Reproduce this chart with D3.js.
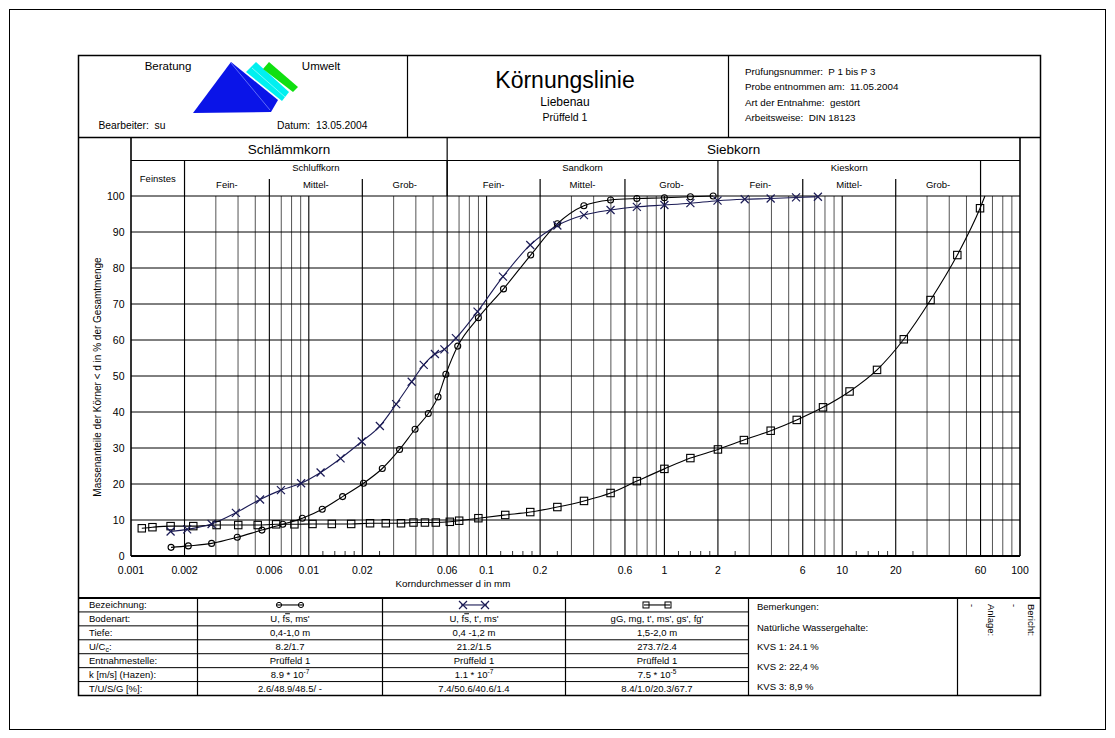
<!DOCTYPE html>
<html><head><meta charset="utf-8">
<script src="https://cdn.jsdelivr.net/npm/d3@7"></script>
<style>
body{margin:0;background:#fff}
svg{display:block}
text{font-family:"Liberation Sans",Arial,Helvetica,sans-serif;fill:#000}
</style>
</head><body>
<svg id="c" width="1115" height="738"></svg>
<script>
// ---------------- DATA ----------------
// Series 1 (circles)
const circleD = [0.00168,0.0021,0.00284,0.00396,0.00545,0.00714,0.0092,0.0119,0.0155,0.0203,0.0259,0.0324,0.0396,0.047,0.0533,0.059,0.0688,0.0899,0.1245,0.177,0.25,0.3525,0.498,0.70,1.0,1.4,1.88];
const circleP = [2.4,2.8,3.5,5.2,7.2,8.8,10.5,13.0,16.5,20.2,24.3,29.6,35.2,39.6,44.2,50.5,58.3,66.2,74.2,83.6,92.3,97.3,98.9,99.3,99.5,99.8,100];
// Series 2 (crosses)
const crossD = [0.00167,0.00207,0.00284,0.00389,0.00532,0.00697,0.00905,0.01165,0.01509,0.01985,0.0251,0.031,0.0379,0.0443,0.0512,0.0579,0.0672,0.0889,0.1236,0.176,0.25,0.3527,0.498,0.70,1.0,1.4,1.99,2.83,3.96,5.5,7.3];
const crossP = [6.8,7.4,8.9,12.0,15.7,18.3,20.2,23.2,27.1,31.8,36.1,42.2,48.4,53.1,56.1,57.4,60.5,67.9,77.6,86.4,91.8,94.7,96.1,97.0,97.5,98.0,98.7,99.1,99.3,99.6,99.8];
// Series 3 (squares)
const squareD = [0.00115,0.00132,0.00167,0.00224,0.00303,0.00401,0.00516,0.00655,0.0083,0.01049,0.01347,0.01731,0.0221,0.0271,0.033,0.0388,0.045,0.0518,0.0621,0.0701,0.0899,0.1273,0.176,0.25,0.353,0.498,0.70,1.0,1.4,2.0,2.8,3.96,5.55,7.8,11.0,15.7,22.2,31.4,44.4,59.6];
const squareP = [7.7,8.0,8.3,8.3,8.6,8.6,8.6,8.8,8.8,8.9,8.9,8.9,9.1,9.1,9.1,9.3,9.3,9.3,9.5,9.8,10.5,11.4,12.2,13.6,15.3,17.5,20.8,24.2,27.2,29.6,32.2,34.8,37.8,41.3,45.7,51.7,60.2,71.1,83.6,96.6];
// curve continuation of series 3 up to 100 %
const squareTailD = [63.5];
const squareTailP = [100];

const xTickLabels = [0.001,0.002,0.006,0.01,0.02,0.06,0.1,0.2,0.6,1,2,6,10,20,60,100];
const yTicks = [0,10,20,30,40,50,60,70,80,90,100];
const gridDecades = [0.001,0.01,0.1,1,10];
const gridMultipliers = [1,2,3,4,5,6,7,8,9];
const shortTickDecades = [0.01,0.1,1,10];
const shortTickMultipliers = [1.2,1.4,1.6,1.8,2.5];
const boundaryLines = [0.002,0.006,0.02,0.06,0.2,0.6,2,6,20,60];

const mainBands = ["Schlämmkorn","Siebkorn"];
const mainBandFrom = [0.001,0.06];
const mainBandTo = [0.06,100];
const groupNames = ["Schluffkorn","Sandkorn","Kieskorn"];
const groupFrom = [0.002,0.06,2];
const groupTo = [0.06,2,60];
const subNames = ["Fein-","Mittel-","Grob-","Fein-","Mittel-","Grob-","Fein-","Mittel-","Grob-"];
const subFrom = [0.002,0.006,0.02,0.06,0.2,0.6,2,6,20];
const subTo = [0.006,0.02,0.06,0.2,0.6,2,6,20,60];

const rowLabels = ["Bezeichnung:","Bodenart:","Tiefe:","U/C","Entnahmestelle:","k [m/s] (Hazen):","T/U/S/G [%]:"];
const bodenart = [["U, f","s",", ms'"],["U, f","s",", t', ms'"],["gG, mg, t', ms', gs', fg'","",""]];
const tiefe = ["0,4-1,0 m","0,4 -1,2 m","1,5-2,0 m"];
const ucc = ["8.2/1.7","21.2/1.5","273.7/2.4"];
const entnahme = ["Prüffeld 1","Prüffeld 1","Prüffeld 1"];
const kMant = ["8.9 * 10","1.1 * 10","7.5 * 10"];
const kExp = ["-7","-7","-5"];
const tusg = ["2.6/48.9/48.5/ -","7.4/50.6/40.6/1.4","8.4/1.0/20.3/67.7"];
const remarks = ["Bemerkungen:","Natürliche Wassergehalte:","KVS 1: 24.1 %","KVS 2: 22,4 %","KVS 3: 8,9 %"];
const headerInfo = ["Prüfungsnummer:  P 1 bis P 3","Probe entnommen am:  11.05.2004","Art der Entnahme:  gestört","Arbeitsweise:  DIN 18123"];

// ---------------- DRAW ----------------
const svg = d3.select("#c");
const X0 = 78.5, X1 = 1040.5, HY0 = 55.5, HY1 = 137.5, BR1 = 160.5, TBY0 = 598, TBY1 = 695.5;
const x = d3.scaleLog().domain([0.001,100]).range([131,1020]);
const y = d3.scaleLinear().domain([0,100]).range([556,196]);
const NAVY = "#1b1b55";

function line(x1,y1,x2,y2,w,c){ svg.append("line").attr("x1",x1).attr("y1",y1).attr("x2",x2).attr("y2",y2).attr("stroke",c||"#000").attr("stroke-width",w||1); }
function txt(s,xx,yy,size,anchor){ return svg.append("text").attr("x",xx).attr("y",yy).attr("font-size",size).attr("text-anchor",anchor||"start").text(s); }

// outer page frame
svg.append("rect").attr("x",9.5).attr("y",9.5).attr("width",1096).attr("height",720).attr("fill","none").attr("stroke","#000").attr("stroke-width",1);
// inner frame
svg.append("rect").attr("x",X0).attr("y",HY0).attr("width",X1-X0).attr("height",TBY1-HY0).attr("fill","none").attr("stroke","#000").attr("stroke-width",1.5);

// ---- header ----
line(X0,HY1,X1,HY1,1.5);
line(407.5,HY0,407.5,HY1,1.2);
line(728.5,HY0,728.5,HY1,1.2);
txt("Beratung",168,70,11.5,"middle");
txt("Umwelt",321,70,11.5,"middle");
txt("Bearbeiter:  su",98.5,129,10.3).attr("xml:space","preserve");
txt("Datum:  13.05.2004",277,129,10.3).attr("xml:space","preserve");
// logo
const logo = svg.append("g");
logo.append("polygon").attr("points","193,113 231,62 278,100 271,112").attr("fill","#0a14e8");
logo.append("line").attr("x1",231).attr("y1",63).attr("x2",270).attr("y2",110).attr("stroke","#9aa8ff").attr("stroke-width",0.6);
logo.append("polygon").attr("points","246,72 256,62 289,92 282,101").attr("fill","#00f0f0");
logo.append("line").attr("x1",252).attr("y1",68).attr("x2",285).attr("y2",97).attr("stroke","#c8ffff").attr("stroke-width",0.6);
logo.append("polygon").attr("points","263,69 269,62 298,87 293,92").attr("fill","#10e010");

txt("Körnungslinie",565,88,23,"middle");
txt("Liebenau",565,106,12,"middle");
txt("Prüffeld 1",565,121,10.5,"middle");
headerInfo.forEach((s,i)=> txt(s,745,75+i*15.3,9.8).attr("xml:space","preserve"));

// ---- classification band ----
line(x(0.001),BR1,x(100),BR1,1.2);
mainBands.forEach((n,i)=>{
  txt(n,(x(mainBandFrom[i])+x(mainBandTo[i]))/2,154,13.5,"middle");
});
line(x(0.06),HY1,x(0.06),y(100),1.2);
groupNames.forEach((n,i)=>{
  line(x(groupFrom[i]),BR1,x(groupFrom[i]),y(100),1.2);
  txt(n,(x(groupFrom[i])+x(groupTo[i]))/2,171,9.5,"middle");
});
line(x(60),BR1,x(60),y(100),1.2);
subNames.forEach((n,i)=>{
  txt(n,(x(subFrom[i])+x(subTo[i]))/2,188,9.5,"middle");
  if (i%3!==0) line(x(subFrom[i]),179,x(subFrom[i]),y(100),1.2);
});
txt("Feinstes",(x(0.001)+x(0.002))/2,182,9.5,"middle");

// ---- grid ----
const gridVals = [];
gridDecades.forEach(d=>gridMultipliers.forEach(m=>{ const v=+(d*m).toPrecision(6); if(v>0.001) gridVals.push(v); }));
gridVals.forEach(v=>{
  const b = boundaryLines.some(q=>Math.abs(q-v)/v<1e-6) || [0.01,0.1,1,10].some(q=>Math.abs(q-v)/v<1e-6);
  line(x(v),y(100),x(v),y(0), b?1.1:1, b?"#000":"#555");
});
shortTickDecades.forEach(d=>shortTickMultipliers.forEach(m=>{
  const v = d*m; line(x(v),y(0),x(v),y(0)-5,1,"#333");
}));
yTicks.forEach(t=> line(x(0.001),y(t),x(100),y(t),1,"#000"));
// frame of plot
line(x(0.001),HY1,x(0.001),y(0),1.6);
line(x(100),HY1,x(100),y(0),1.6);
line(x(0.001),y(0),x(100),y(0),2);

// axis labels
yTicks.forEach(t=> txt(String(t),124.5,y(t)+3.8,10.5,"end"));
xTickLabels.forEach(t=> txt(String(t),x(t),574,10.5,"middle"));
txt("Korndurchmesser d in mm",453,587,9.8,"middle");
svg.append("text").attr("transform","translate(101,377) rotate(-90)").attr("font-size",10).attr("text-anchor","middle").text("Massenanteile der Körner < d in % der Gesamtmenge");

// ---- curves ----
const lineGen = d3.line().x(d=>x(d[0])).y(d=>y(d[1])).curve(d3.curveMonotoneX);
const circles = circleD.map((d,i)=>[d,circleP[i]]);
const crosses = crossD.map((d,i)=>[d,crossP[i]]);
const squares = squareD.map((d,i)=>[d,squareP[i]]);
const squareCurve = squares.concat(squareTailD.map((d,i)=>[d,squareTailP[i]]));

svg.append("path").attr("d",lineGen(squareCurve)).attr("fill","none").attr("stroke","#000").attr("stroke-width",1.1);
svg.append("path").attr("d",lineGen(circles)).attr("fill","none").attr("stroke","#000").attr("stroke-width",1.1);
svg.append("path").attr("d",lineGen(crosses)).attr("fill","none").attr("stroke",NAVY).attr("stroke-width",1.1);

function drawCircle(g,cx,cy){ g.append("circle").attr("cx",cx).attr("cy",cy).attr("r",3).attr("fill","none").attr("stroke","#000").attr("stroke-width",1.1); }
function drawSquare(g,cx,cy){ g.append("rect").attr("x",cx-3.7).attr("y",cy-3.7).attr("width",7.4).attr("height",7.4).attr("fill","none").attr("stroke","#000").attr("stroke-width",1.1); }
function drawCross(g,cx,cy){ const s=4; g.append("path").attr("d",`M${cx-s},${cy-s}L${cx+s},${cy+s}M${cx-s},${cy+s}L${cx+s},${cy-s}`).attr("stroke",NAVY).attr("stroke-width",1.2).attr("fill","none"); }

const mk = svg.append("g");
squares.forEach(p=>drawSquare(mk,x(p[0]),y(p[1])));
circles.forEach(p=>drawCircle(mk,x(p[0]),y(p[1])));
crosses.forEach(p=>drawCross(mk,x(p[0]),y(p[1])));

// ---- table ----
line(X0,TBY0,X1,TBY0,2);
const colX = [78.5,197.5,382.5,565.5,748.5,957.5,1040.5];
const rowH = (TBY1-TBY0)/7;
for(let r=1;r<7;r++) line(X0,TBY0+r*rowH,colX[4],TBY0+r*rowH,1);
colX.slice(1,6).forEach(cx=> line(cx,TBY0,cx,TBY1,1.2));
const FS = 9.5;
const rowY = r => TBY0 + r*rowH + rowH/2 + 3.4;
rowLabels.forEach((s,r)=>{
  const t = txt(s,89,rowY(r),FS);
  if (r===3){ t.append("tspan").attr("font-size",7).attr("dy",2).text("c"); t.append("tspan").attr("dy",-2).text(":"); }
});
const colC = [0,1,2].map(i=>(colX[i+1]+colX[i+2])/2);
// legend symbols
const lg = svg.append("g");
const symY = TBY0 + rowH/2;
[0,1,2].forEach(i=>{
  const c = colC[i];
  lg.append("line").attr("x1",c-13).attr("y1",symY).attr("x2",c+13).attr("y2",symY).attr("stroke", i===1?NAVY:"#000").attr("stroke-width",1.1);
  if(i===0){ lg.append("circle").attr("cx",c-11).attr("cy",symY).attr("r",2.6).attr("fill","none").attr("stroke","#000"); lg.append("circle").attr("cx",c+11).attr("cy",symY).attr("r",2.6).attr("fill","none").attr("stroke","#000"); }
  else if(i===1){ drawCross(lg,c-11,symY); drawCross(lg,c+11,symY); }
  else { lg.append("rect").attr("x",c-14).attr("y",symY-3).attr("width",6).attr("height",6).attr("fill","none").attr("stroke","#000"); lg.append("rect").attr("x",c+8).attr("y",symY-3).attr("width",6).attr("height",6).attr("fill","none").attr("stroke","#000"); }
});
[0,1,2].forEach(i=>{
  const c = colC[i];
  const t = txt(bodenart[i][0],c,rowY(1),FS,"middle");
  if (bodenart[i][1]) { t.append("tspan").style("text-decoration","overline").text(bodenart[i][1]); t.append("tspan").text(bodenart[i][2]); }
  txt(tiefe[i],c,rowY(2),FS,"middle");
  txt(ucc[i],c,rowY(3),FS,"middle");
  txt(entnahme[i],c,rowY(4),FS,"middle");
  const k = txt(kMant[i],c,rowY(5),FS,"middle");
  k.append("tspan").attr("font-size",6.5).attr("dy",-4).text(kExp[i]);
  txt(tusg[i],c,rowY(6),FS,"middle");
});
// remarks
const remY = [611,632,651,671,691];
remarks.forEach((s,i)=> txt(s,757,remY[i]-1,FS));
// Anlage / Bericht
svg.append("text").attr("transform","translate(969,604) rotate(90)").attr("font-size",FS).text("-");
svg.append("text").attr("transform","translate(988,604) rotate(90)").attr("font-size",FS).text("Anlage:");
svg.append("text").attr("transform","translate(1011,604) rotate(90)").attr("font-size",FS).text("-");
svg.append("text").attr("transform","translate(1028,604) rotate(90)").attr("font-size",FS).text("Bericht:");
</script>
</body></html>
